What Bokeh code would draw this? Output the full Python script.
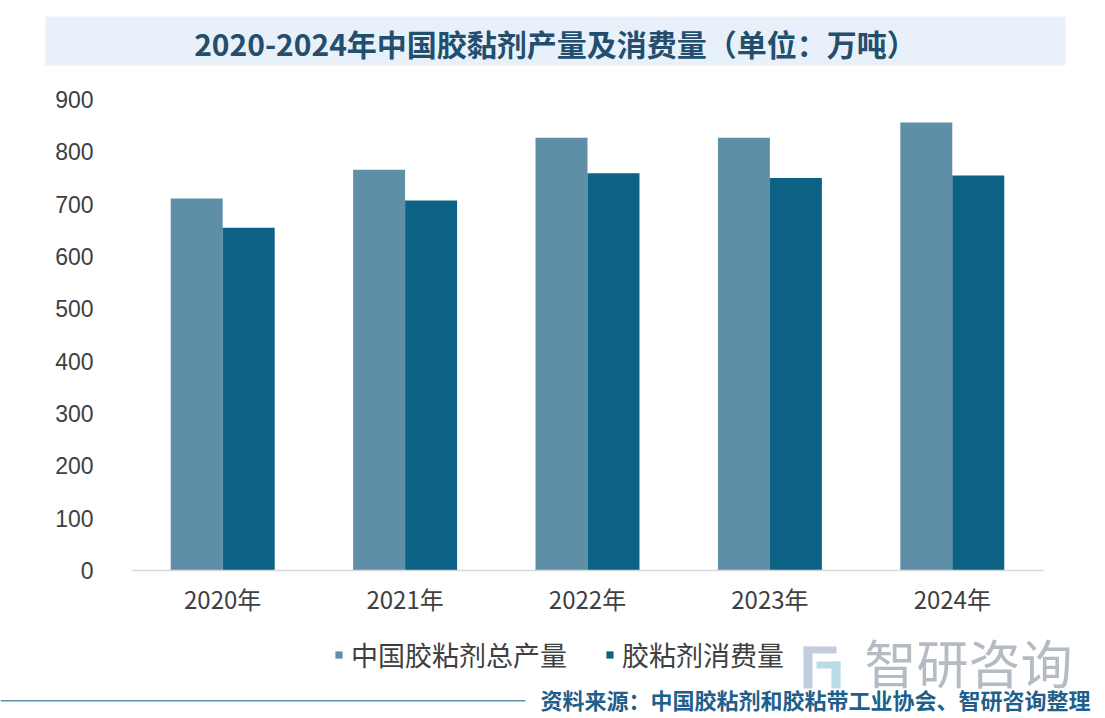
from bokeh.plotting import figure
from bokeh.models import (FactorRange, Range1d, FixedTicker, Legend, LegendItem, ColumnDataSource)
from bokeh.layouts import column
from bokeh.transform import dodge
from bokeh.core.properties import value
from bokeh.embed import file_html
from bokeh.resources import INLINE

years = ["2020年", "2021年", "2022年", "2023年", "2024年"]
production = [711, 766, 827, 827, 856]
consumption = [655, 707, 759, 750, 755]
y_ticks = [0, 100, 200, 300, 400, 500, 600, 700, 800, 900]
series_names = ["中国胶粘剂总产量", "胶粘剂消费量"]
title_text = "2020-2024年中国胶黏剂产量及消费量（单位：万吨）"
source_text = "资料来源：中国胶粘剂和胶粘带工业协会、智研咨询整理"
brand_text = "智研咨询"

COL_PROD = "#5f8fa6"
COL_CONS = "#0b6284"
W = 1105

# ---------- top strip: title band ----------
top_h = 83
ft = figure(width=W, height=top_h, output_backend="svg", toolbar_location=None,
            x_range=Range1d(0, W), y_range=Range1d(top_h, 0),
            x_axis_type=None, y_axis_type=None, min_border=0, outline_line_color=None,
            frame_align=False)
ft.grid.visible = False
ft.quad(left=[45], right=[1065], top=[16], bottom=[65], fill_color="#e8f1f9", line_color=None)
ft.text(x=[555], y=[42], text=[title_text], text_align="center", text_baseline="middle",
        text_font=value("Noto Sans CJK SC"), text_font_style="bold",
        text_font_size="30px", text_color="#234e6e")

# ---------- main chart ----------
src = ColumnDataSource(dict(year=years, prod=production, cons=consumption))
p = figure(width=W, height=540, output_backend="svg", toolbar_location=None,
           x_range=FactorRange(factors=years, range_padding=0),
           y_range=Range1d(0, 900),
           min_border_left=131, min_border_right=62, min_border_top=16, min_border_bottom=53,
           outline_line_color=None, frame_align=False)
p.grid.visible = False

r1 = p.vbar(x=dodge("year", -0.1425, range=p.x_range), top="prod", width=0.285,
            source=src, fill_color=COL_PROD, line_color=None)
r2 = p.vbar(x=dodge("year", 0.1425, range=p.x_range), top="cons", width=0.285,
            source=src, fill_color=COL_CONS, line_color=None)

yax = p.yaxis[0]
yax.ticker = FixedTicker(ticks=y_ticks)
yax.axis_line_color = None
yax.major_tick_line_color = None
yax.minor_tick_line_color = None
yax.major_tick_out = 0
yax.major_label_standoff = 38
yax.major_label_text_font = "Liberation Sans"
yax.major_label_text_font_size = "23px"
yax.major_label_text_color = "#404040"

xax = p.xaxis[0]
xax.axis_line_color = "#d9d9d9"
xax.axis_line_width = 1.5
xax.major_tick_line_color = None
xax.minor_tick_line_color = None
xax.major_tick_out = 0
xax.major_label_standoff = 10
xax.major_label_text_font = "Noto Sans CJK SC"
xax.major_label_text_font_size = "24px"
xax.major_label_text_color = "#404040"

# ---------- bottom strip: legend, brand, source ----------
bot_h = 95
fb = figure(width=W, height=bot_h, output_backend="svg", toolbar_location=None,
            x_range=Range1d(0, W), y_range=Range1d(bot_h, 0),
            x_axis_type=None, y_axis_type=None, min_border=0, outline_line_color=None,
            frame_align=False)
fb.grid.visible = False
d1 = fb.vbar(x=[-500], top=[-500], bottom=[-600], width=1, fill_color=COL_PROD, line_color=None)
d2 = fb.vbar(x=[-500], top=[-500], bottom=[-600], width=1, fill_color=COL_CONS, line_color=None)
legend = Legend(items=[LegendItem(label=series_names[0], renderers=[d1]),
                       LegendItem(label=series_names[1], renderers=[d2])],
                orientation="horizontal", location=(334, 44),
                glyph_width=9, glyph_height=9, label_standoff=8, spacing=38,
                padding=0, margin=0, border_line_color=None, background_fill_alpha=0,
                label_text_font="Noto Sans CJK SC", label_text_font_size="27px",
                label_text_color="#404040")
fb.add_layout(legend, "center")

# brand logo (decorative) and name
fb.quad(left=[803, 803, 816, 831], right=[836, 812, 840, 840],
        top=[23, 23, 38, 38], bottom=[30, 65, 45, 65],
        fill_color=["#c3cddd", "#c3cddd", "#b9dbe9", "#b9dbe9"], line_color=None)
fb.text(x=[968], y=[38], text=[brand_text], text_align="center", text_baseline="middle",
        text_font=value("Noto Sans CJK SC"), text_font_size="52px", text_color="#b4bbc2")
fb.quad(left=[0], right=[525], top=[76.5], bottom=[78], fill_color="#5b8fb0", line_color=None)
fb.text(x=[540], y=[75], text=[source_text], text_align="left", text_baseline="middle",
        text_font=value("Noto Sans CJK SC"), text_font_style="bold",
        text_font_size="22px", text_color="#1f5f8b")

layout = column(ft, p, fb, spacing=0)
open("out.html", "w").write(file_html(layout, INLINE))
